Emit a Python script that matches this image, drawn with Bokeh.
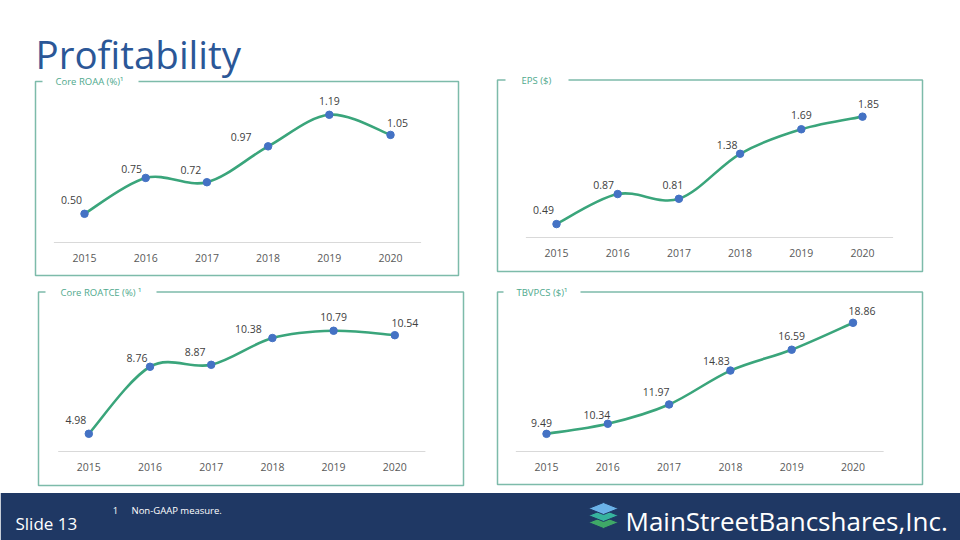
from bokeh.plotting import figure
from bokeh.models import Range1d
from bokeh.core.properties import value
from bokeh.embed import file_html
from bokeh.resources import INLINE

# ---------------- data ----------------
years = [2015, 2016, 2017, 2018, 2019, 2020]
year_labels = ["2015", "2016", "2017", "2018", "2019", "2020"]
core_roaa = [0.50, 0.75, 0.72, 0.97, 1.19, 1.05]
eps = [0.49, 0.87, 0.81, 1.38, 1.69, 1.85]
core_roatce = [4.98, 8.76, 8.87, 10.38, 10.79, 10.54]
tbvpcs = [9.49, 10.34, 11.97, 14.83, 16.59, 18.86]
panel_titles = ["Core ROAA (%)\u00b9", "EPS ($)", "Core ROATCE (%) \u00b9", "TBVPCS ($)\u00b9"]
series = [core_roaa, eps, core_roatce, tbvpcs]

# ---------------- layout (pixels on the 960x540 slide) ----------------
W, H = 960, 540
panels = [
    dict(box=(35, 81, 458, 275), gap=(42, 138), tx=55,
         x0=84, dx=61.2, yb=242, vb=0.30, k=143.5,
         offs=[(-13, 14), (-14, 9), (-16, 12), (-27, 9), (0, 14), (7, 12)]),
    dict(box=(497, 79.5, 922, 271), gap=(505, 568), tx=521,
         x0=556, dx=61.2, yb=237, vb=0.32, k=79.0,
         offs=[(-13, 14), (-14, 9), (-6, 14), (-13, 9), (0, 14), (6, 13)]),
    dict(box=(38, 291.5, 463, 485), gap=(45, 156), tx=60,
         x0=88.3, dx=61.2, yb=451, vb=3.98, k=17.73,
         offs=[(-13, 14), (-13, 9), (-16, 13), (-24, 9), (0, 14), (10, 12)]),
    dict(box=(497, 291.5, 922, 484), gap=(503, 580), tx=516,
         x0=546, dx=61.3, yb=451, vb=8.0, k=11.85,
         offs=[(-5, 11), (-11, 9), (-13, 12), (-14, 10), (0, 14), (9, 12)]),
]

FONT = value("Open Sans")
LINE_GREEN = "#3AA57B"
MARKER_BLUE = "#4472C4"
BOX_COLOR = "#7DBBAA"
TITLE_GREEN = "#4FA98D"

p = figure(width=W, height=H, x_range=Range1d(0, W), y_range=Range1d(H, 0),
           output_backend="svg", toolbar_location=None, min_border=0,
           x_axis_type=None, y_axis_type=None)
p.outline_line_color = None
p.background_fill_color = "white"
p.border_fill_color = "white"

# Title
p.text(x=[35], y=[53.5], text=["Profitability"], text_font=FONT,
       text_font_size="38.5px", text_color="#2B5797", text_baseline="alphabetic",
       text_align="left")

def smooth_segments(xs, ys):
    n = len(xs)
    out = dict(x0=[], y0=[], x1=[], y1=[], cx0=[], cy0=[], cx1=[], cy1=[])
    for i in range(n - 1):
        a = max(i - 1, 0)
        d = min(i + 2, n - 1)
        out["x0"].append(xs[i]); out["y0"].append(ys[i])
        out["x1"].append(xs[i + 1]); out["y1"].append(ys[i + 1])
        out["cx0"].append(xs[i] + (xs[i + 1] - xs[a]) / 6.0)
        out["cy0"].append(ys[i] + (ys[i + 1] - ys[a]) / 6.0)
        out["cx1"].append(xs[i + 1] - (xs[d] - xs[i]) / 6.0)
        out["cy1"].append(ys[i + 1] - (ys[d] - ys[i]) / 6.0)
    return out

for idx, (spec, vals, title) in enumerate(zip(panels, series, panel_titles)):
    l, t, r, b = spec["box"]
    # frame box
    p.quad(left=[l], right=[r], top=[t], bottom=[b], fill_color=None,
           line_color=BOX_COLOR, line_width=1.5)
    g0, g1 = spec["gap"]
    p.quad(left=[g0], right=[g1], top=[t - 4], bottom=[t + 4], fill_color="white",
           line_color=None)
    p.text(x=[spec["tx"]], y=[t], text=[title], text_font=FONT, text_font_size="9.5px",
           text_color=TITLE_GREEN, text_baseline="middle", text_align="left")

    # panel scales
    xn, yn = "px%d" % idx, "py%d" % idx
    x0, dx = spec["x0"], spec["dx"]
    yb, vb, k = spec["yb"], spec["vb"], spec["k"]
    p.extra_x_ranges[xn] = Range1d(years[0] - x0 / dx, years[0] + (W - x0) / dx)
    p.extra_y_ranges[yn] = Range1d(vb + (yb - H) / k, vb + yb / k)

    # baseline (category axis line)
    p.segment(x0=[years[0] - 0.5], y0=[vb], x1=[years[-1] + 0.5], y1=[vb],
              line_color="#D9D9D9", line_width=1, x_range_name=xn, y_range_name=yn)
    # year labels
    p.text(x=years, y=[vb] * len(years), text=year_labels, text_font=FONT,
           text_font_size="10.5px", text_color="#595959", text_align="center",
           text_baseline="middle", y_offset=15, x_range_name=xn, y_range_name=yn)

    # smoothed line
    seg = smooth_segments(years, vals)
    p.bezier(line_color=LINE_GREEN, line_width=2.6, x_range_name=xn, y_range_name=yn, **seg)
    p.scatter(x=years, y=vals, size=7.5, fill_color=MARKER_BLUE, line_color=MARKER_BLUE,
              x_range_name=xn, y_range_name=yn)
    offs = spec["offs"]
    p.text(x=years, y=vals, text=["%.2f" % v for v in vals], text_font=FONT,
           text_font_size="10.5px", text_color="#404040", text_align="center",
           text_baseline="middle", x_offset=[o[0] for o in offs],
           y_offset=[-o[1] for o in offs], x_range_name=xn, y_range_name=yn)

# Footer band
p.quad(left=[0], right=[W], top=[492.5], bottom=[H], fill_color="#1F3864", line_color=None)
p.text(x=[15], y=[523], text=["Slide 13"], text_font=FONT, text_font_size="17px",
       text_color="white", text_baseline="alphabetic", text_align="left")
p.text(x=[115], y=[510], text=["1"], text_font=FONT, text_font_size="9.5px",
       text_color="white", text_baseline="middle", text_align="center")
p.text(x=[131], y=[510], text=["Non-GAAP measure."], text_font=FONT, text_font_size="9.5px",
       text_color="white", text_baseline="middle", text_align="left")

# Logo icon: three stacked diamonds
cx, hw, hh = 603, 15, 6
for cy, col in [(522, "#3FA867"), (515, "#36B39E"), (508, "#6AB2E8")]:
    p.patch(x=[cx - hw, cx, cx + hw, cx], y=[cy, cy - hh, cy, cy + hh],
            fill_color=col, line_color="#1F3864", line_width=1)
p.text(x=[625], y=[520], text=["MainStreetBancshares,Inc."], text_font=FONT,
       text_font_size="26px", text_color="white", text_baseline="alphabetic",
       text_align="left")

open("out.html", "w").write(file_html(p, INLINE))
